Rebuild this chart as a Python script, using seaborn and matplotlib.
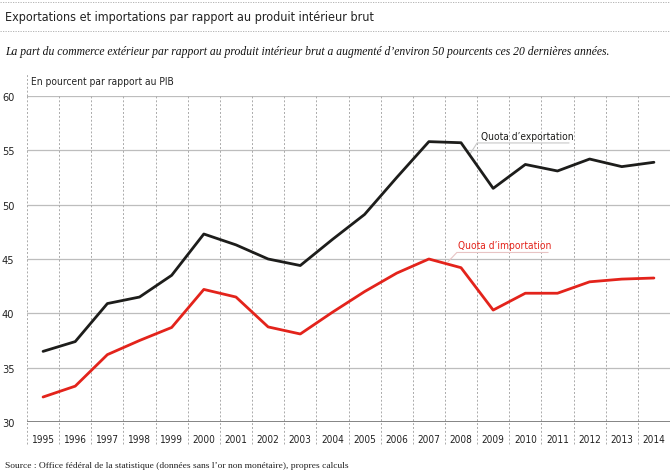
import matplotlib
matplotlib.use("Agg")
import matplotlib.pyplot as plt
from matplotlib import font_manager
import numpy as np
import pandas as pd
import seaborn as sns

years = ["1995", "1996", "1997", "1998", "1999", "2000", "2001", "2002", "2003", "2004",
         "2005", "2006", "2007", "2008", "2009", "2010", "2011", "2012", "2013", "2014"]
export_quota = [36.5, 37.4, 40.9, 41.5, 43.5, 47.3, 46.3, 45.0, 44.4, 46.8,
                49.1, 52.5, 55.8, 55.7, 51.5, 53.7, 53.1, 54.2, 53.5, 53.9]
import_quota = [32.3, 33.3, 36.2, 37.5, 38.7, 42.2, 41.5, 38.75, 38.1, 40.1,
                42.0, 43.7, 45.0, 44.2, 40.3, 41.85, 41.85, 42.9, 43.15, 43.25]

BLACK = "#1d1d1b"
RED = "#e3231b"
GRID = "#bdbdbd"

sns.set_style("white")

# pick a condensed sans if one is around
fonts = [(f.name, f.stretch) for f in font_manager.fontManager.ttflist]
names = set(n for n, _ in fonts)
stretch = "normal"
if "Liberation Sans Narrow" in names:
    narrow = "Liberation Sans Narrow"
elif ("DejaVu Sans", "condensed") in fonts or ("DejaVu Sans", "semi-condensed") in fonts:
    narrow = "DejaVu Sans"
    stretch = "condensed"
elif "DejaVu Sans Condensed" in names:
    narrow = "DejaVu Sans Condensed"
else:
    narrow = "Liberation Sans"
plt.rcParams["font.family"] = [narrow, "DejaVu Sans"]
plt.rcParams["font.stretch"] = stretch
serif = ["Liberation Serif", "DejaVu Serif"]

df = pd.DataFrame({
    "pos": list(range(len(years))) * 2,
    "value": export_quota + import_quota,
    "serie": ["export"] * len(years) + ["import"] * len(years),
})

fig = plt.figure(figsize=(6.7, 4.77), dpi=100)
ax = fig.add_axes([27 / 670, 1 - 423 / 477, 643 / 670, 326 / 477])

sns.lineplot(data=df, x="pos", y="value", hue="serie", palette={"export": BLACK, "import": RED},
             linewidth=2.0, legend=False, ax=ax, zorder=5)

ax.set_xlim(-0.5, len(years) - 0.5)
ax.set_ylim(30, 60)
ax.set_yticks([30, 35, 40, 45, 50, 55, 60])
ax.set_xticks(range(len(years)))
ax.set_xticklabels(years)
ax.set_xlabel("")
ax.set_ylabel("")
for s in ax.spines.values():
    s.set_visible(False)

# horizontal grid
for v in [35, 40, 45, 50, 55, 60]:
    ax.axhline(v, color=GRID, lw=0.9, zorder=1)
ax.axhline(30, color="#6f6f6f", lw=1.2, zorder=2)
ax.tick_params(axis="y", length=6, width=0.9, color=GRID, pad=3, labelsize=7.8, labelcolor="#222222")
ax.tick_params(axis="x", length=0, pad=9, labelsize=7.2, labelcolor="#222222")

# vertical dotted separators
for i in range(len(years) + 1):
    ax.axvline(i - 0.5, ymin=-0.068, ymax=1.0, color="#aaaaaa", lw=0.7, ls=(0, (2, 2)),
               clip_on=False, zorder=1)
ax.axvline(-0.5, ymin=1.0, ymax=1.068, color="#aaaaaa", lw=0.7, ls=(0, (2, 2)), clip_on=False)

# header
fig.add_artist(plt.Line2D([0, 1], [1 - 3 / 477] * 2, color="#aaaaaa", lw=0.6, ls=(0, (1.5, 1.5))))
fig.add_artist(plt.Line2D([0, 1], [1 - 32 / 477] * 2, color="#aaaaaa", lw=0.6, ls=(0, (1.5, 1.5))))
fig.text(5 / 670, 1 - 17 / 477, "Exportations et importations par rapport au produit intérieur brut",
         fontsize=9, color="#222222", va="center", ha="left")
fig.text(5 / 670, 1 - 52 / 477,
         "La part du commerce extérieur par rapport au produit intérieur brut a augmenté d’environ 50 pourcents ces 20 dernières années.",
         fontsize=8.4, style="italic", family=serif, stretch="normal", color="#111111",
         va="center", ha="left")
fig.text(31 / 670, 1 - 82 / 477, "En pourcent par rapport au PIB", fontsize=7.3, color="#222222",
         va="center", ha="left")
fig.text(5 / 670, 1 - 466 / 477,
         "Source : Office fédéral de la statistique (données sans l’or non monétaire), propres calculs",
         fontsize=6.8, family=serif, stretch="normal", color="#222222", va="center", ha="left")

# series labels with leader lines
ax.text(13.62, 56.3, "Quota d’exportation", fontsize=7.3, color=BLACK, ha="left", va="center")
ax.plot([13.28, 13.5, 16.36], [54.66, 55.68, 55.68], color="#c8c8c8", lw=0.8, zorder=3)
ax.text(12.9, 46.3, "Quota d’importation", fontsize=7.3, color=RED, ha="left", va="center")
ax.plot([12.6, 12.87, 15.71], [44.76, 45.6, 45.6], color="#e8c4c4", lw=0.8, zorder=3)

fig.savefig("out.png", dpi=100)
